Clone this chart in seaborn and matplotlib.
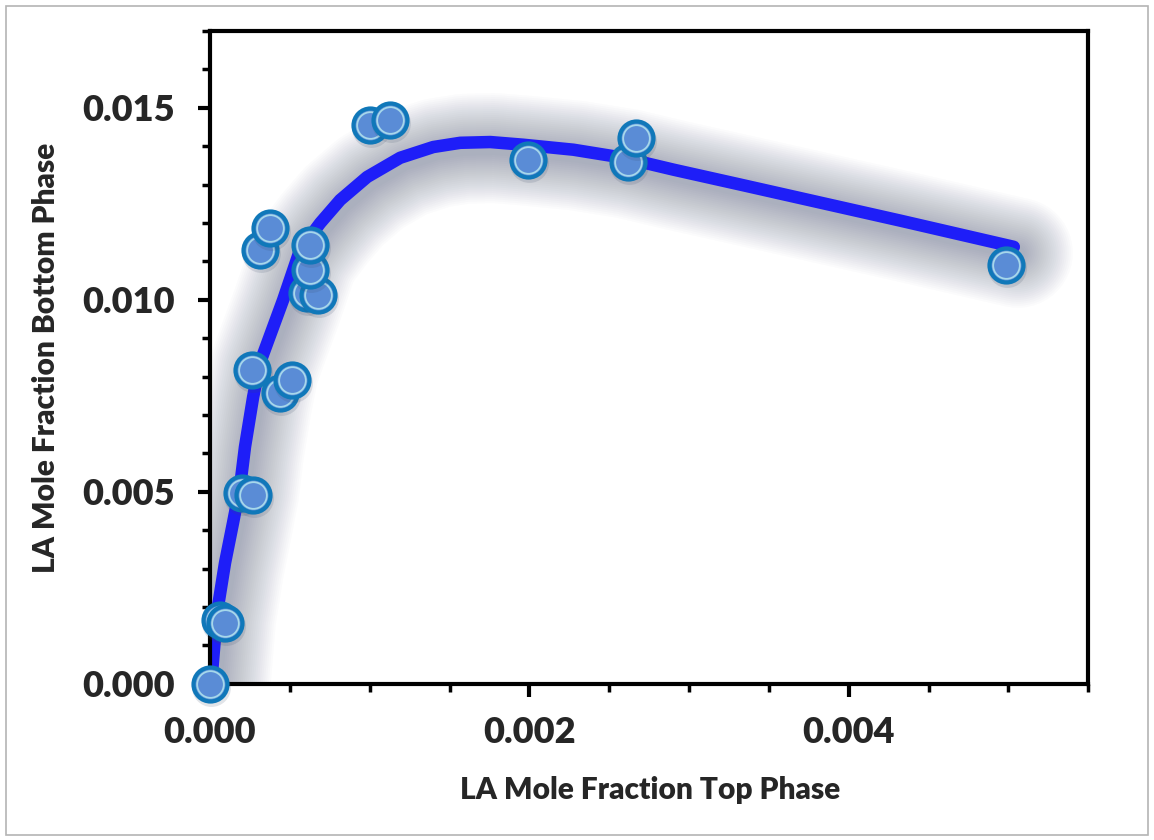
import matplotlib
matplotlib.use("Agg")
import matplotlib.pyplot as plt
import matplotlib.transforms as mtransforms
from matplotlib.patches import Rectangle
from matplotlib.ticker import MultipleLocator, FormatStrFormatter
import seaborn as sns
import numpy as np
import pandas as pd

# measured points (top phase, bottom phase)
x_top = [0.0, 0.0000627, 0.000094, 0.000201, 0.00027, 0.000263, 0.000439, 0.000514,
         0.000313, 0.000376, 0.000608, 0.000677, 0.000627, 0.000627,
         0.001003, 0.001129, 0.001994, 0.00262, 0.002665, 0.004984]
y_bottom = [0.0, 0.00167, 0.00159, 0.00497, 0.00492, 0.00818, 0.00758, 0.00792,
            0.0113, 0.01188, 0.01018, 0.01013, 0.01078, 0.01143,
            0.01456, 0.01469, 0.01365, 0.01359, 0.01422, 0.01091]

# fitted curve
fit_x = [0.0, 0.0000125, 0.0000439, 0.000094, 0.000144, 0.000188, 0.000219, 0.00027,
         0.000313, 0.000389, 0.000458, 0.000564, 0.00069, 0.000815, 0.000984,
         0.001191, 0.001398, 0.001567, 0.001755, 0.001962, 0.002276, 0.002589,
         0.002903, 0.003323, 0.004326, 0.005034]
fit_y = [0.0, 0.000286, 0.00185, 0.00315, 0.00419, 0.00513, 0.00617, 0.00747,
         0.00836, 0.00922, 0.0100, 0.0113, 0.0120, 0.0126, 0.0132,
         0.0137, 0.01398, 0.01409, 0.01411, 0.01404, 0.01391, 0.0137,
         0.01339, 0.0130, 0.01206, 0.01138]

points = pd.DataFrame({"top": x_top, "bottom": y_bottom})
fit = pd.DataFrame({"top": fit_x, "bottom": fit_y})

sns.set_theme(style="white")
plt.rcParams["font.family"] = ["Lato", "DejaVu Sans"]
plt.rcParams["font.weight"] = "bold"
WEIGHT = 800

fig = plt.figure(figsize=(11.54, 8.4), dpi=100)
ax = fig.add_axes([0.182, 0.186, 0.761, 0.777])

# soft glow under the curve
shadow = mtransforms.offset_copy(ax.transData, fig=fig, x=4, y=-6, units="dots")
for w in range(110, 12, -4):
    ax.plot(fit_x, fit_y, color="#42506e", lw=w * 0.72, alpha=0.02,
            solid_capstyle="round", solid_joinstyle="round",
            transform=shadow, zorder=1)

sns.lineplot(data=fit, x="top", y="bottom", sort=False, ax=ax, color="#1e1ef8",
             lw=9, solid_capstyle="round", solid_joinstyle="round", zorder=2)

# markers, one at a time so overlaps stack like the original
mshadow = mtransforms.offset_copy(ax.transData, fig=fig, x=1, y=-3, units="dots")
for i, (xv, yv) in enumerate(zip(x_top, y_bottom)):
    z = 3 + i * 0.01
    ax.scatter([xv], [yv], s=28 ** 2, color="#3a4a66", alpha=0.15, lw=0, zorder=z,
               transform=mshadow, clip_on=False)
    sns.scatterplot(x=[xv], y=[yv], ax=ax, s=24.5 ** 2, color="#5a8cd6",
                    edgecolor="#1078b9", linewidth=3.0, zorder=z + 0.001,
                    legend=False, clip_on=False)
    sns.scatterplot(x=[xv], y=[yv], ax=ax, s=19.2 ** 2, color="#5a8cd6",
                    edgecolor="#a6d8ea", linewidth=1.3, zorder=z + 0.002,
                    legend=False, clip_on=False)

ax.set_xlim(0, 0.0055)
ax.set_ylim(0, 0.017)
ax.xaxis.set_major_locator(MultipleLocator(0.002))
ax.xaxis.set_minor_locator(MultipleLocator(0.0005))
ax.yaxis.set_major_locator(MultipleLocator(0.005))
ax.yaxis.set_minor_locator(MultipleLocator(0.001))
ax.xaxis.set_major_formatter(FormatStrFormatter("%.3f"))
ax.yaxis.set_major_formatter(FormatStrFormatter("%.3f"))

for s in ax.spines.values():
    s.set_linewidth(3)
    s.set_color("black")
    s.set_zorder(2.5)
ax.tick_params(which="major", direction="out", length=9, width=3, color="black",
               labelsize=26, bottom=True, left=True)
ax.tick_params(which="minor", direction="out", length=6, width=2.5, color="black",
               bottom=True, left=True)
ax.tick_params(axis="x", which="major", pad=14)
ax.tick_params(axis="y", which="major", pad=16)
for lab in ax.get_xticklabels() + ax.get_yticklabels():
    lab.set_fontweight(WEIGHT)

ax.set_xlabel("LA Mole Fraction Top Phase", fontsize=21.5, fontweight=WEIGHT)
ax.set_ylabel("LA Mole Fraction Bottom Phase", fontsize=21.5, fontweight=WEIGHT)
ax.xaxis.set_label_coords(0.501, -0.142)
ax.yaxis.set_label_coords(-0.171, 0.5)
ax.grid(False)

fig.patches.append(Rectangle((0.005, 0.006), 0.99, 0.987, transform=fig.transFigure,
                             fill=False, edgecolor="#b4b4b4", lw=1.2))

fig.savefig("out.png", dpi=100)
